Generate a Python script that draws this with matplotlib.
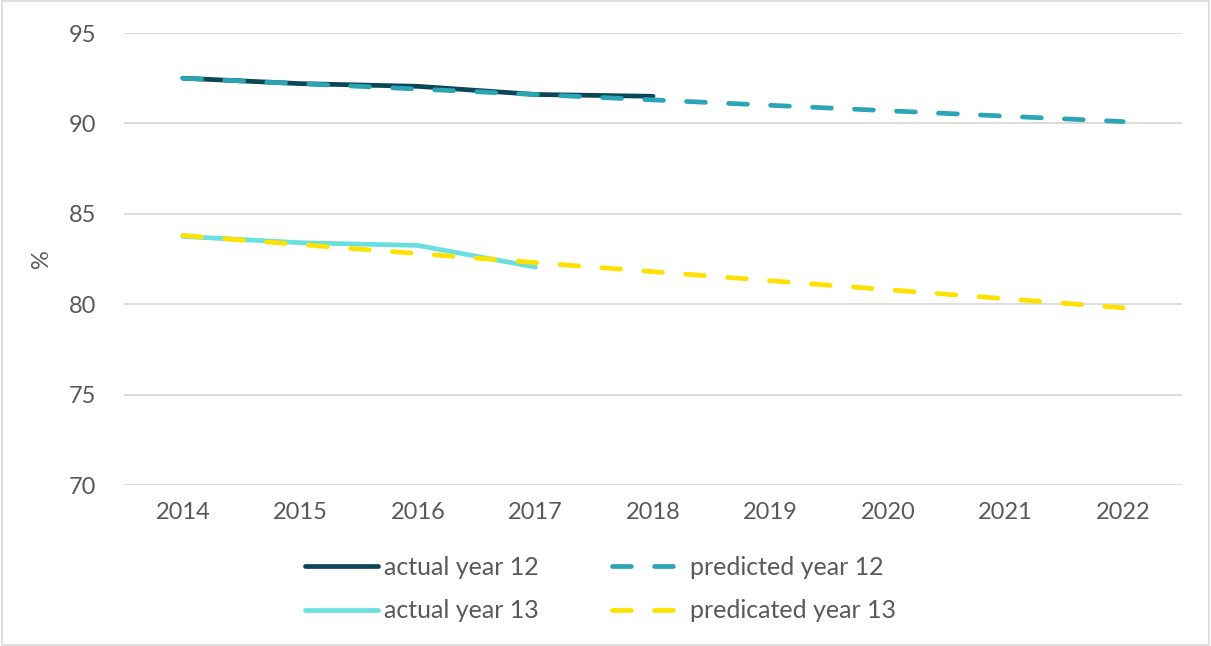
import matplotlib
matplotlib.use("Agg")
import matplotlib.pyplot as plt
from matplotlib.patches import Rectangle

years = ["2014", "2015", "2016", "2017", "2018", "2019", "2020", "2021", "2022"]
actual_y12 = [92.5, 92.2, 92.05, 91.6, 91.5]
predicted_y12 = [92.5, 92.2, 91.9, 91.6, 91.3, 91.0, 90.7, 90.4, 90.1]
actual_y13 = [83.75, 83.4, 83.25, 82.05]
predicted_y13 = [83.8, 83.3, 82.8, 82.3, 81.8, 81.3, 80.8, 80.3, 79.8]
yticks = [70, 75, 80, 85, 90, 95]

plt.rcParams['font.family'] = ['Lato', 'DejaVu Sans']
txt = '#595959'

fig = plt.figure(figsize=(12.11, 6.46), dpi=100)
ax = fig.add_axes([124/1211, 1 - 485/646, (1182-124)/1211, (485-33)/646])

x = list(range(len(years)))
lw = 3.4
dash = (4.0, 4.9)
l1, = ax.plot(x[:len(actual_y12)], actual_y12, color='#0A4655', lw=lw, solid_capstyle='round', label='actual year 12', zorder=3)
l2, = ax.plot(x, predicted_y12, color='#2BA5B5', lw=lw, dashes=dash, dash_capstyle='round', label='predicted year 12', zorder=4)
l3, = ax.plot(x[:len(actual_y13)], actual_y13, color='#69DFDF', lw=lw, solid_capstyle='round', label='actual year 13', zorder=3)
l4, = ax.plot(x, predicted_y13, color='#FFE100', lw=lw, dashes=dash, dash_capstyle='round', label='predicated year 13', zorder=4)

ax.set_xlim(-0.5, len(years) - 0.5)
ax.set_ylim(70, 95)
ax.set_yticks(yticks)
ax.set_xticks(x)
ax.set_xticklabels(years)
ax.grid(axis='y', color='#D9D9D9', lw=1.3)
ax.set_axisbelow(True)
for s in ax.spines.values():
    s.set_visible(False)
ax.tick_params(axis='both', length=0, labelsize=17, labelcolor=txt)
ax.tick_params(axis='y', pad=20)
ax.tick_params(axis='x', pad=12)
ax.set_ylabel('%', fontsize=17, color=txt)
ax.yaxis.set_label_coords(-0.068, 0.5)

common = dict(loc='center left', frameon=False, fontsize=18, labelcolor=txt, handlelength=2.92,
              handletextpad=0.22, labelspacing=0.82, borderpad=0, borderaxespad=0)
leg1 = fig.legend(handles=[l1, l3], bbox_to_anchor=(305/1211, 1 - 589/646), **common)
leg2 = fig.legend(handles=[l2, l4], bbox_to_anchor=(612/1211, 1 - 589/646), **common)

fig.patches.append(Rectangle((0.002, 0.002), 0.996, 0.996, transform=fig.transFigure,
                             fill=False, edgecolor='#D9D9D9', lw=1.2))
fig.savefig('out.png', dpi=100, facecolor='white')
